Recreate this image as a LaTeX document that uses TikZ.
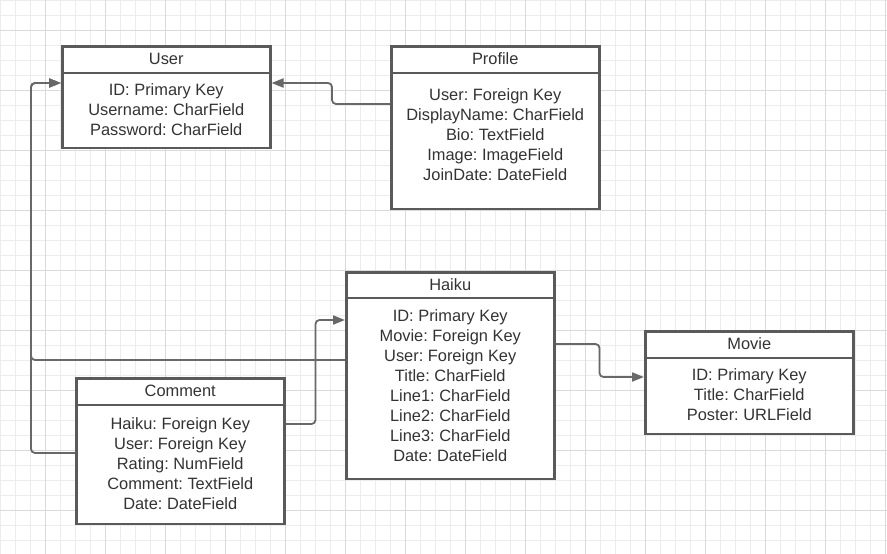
\documentclass[tikz,border=0pt]{standalone}
\usepackage{fontspec}
\setmainfont{Liberation Sans}
\usetikzlibrary{arrows.meta,positioning}
\definecolor{GridMinor}{RGB}{236,236,236}
\definecolor{GridMajor}{RGB}{218,218,218}
\definecolor{BoxClr}{RGB}{90,90,90}
\definecolor{LinkClr}{RGB}{104,104,104}
\definecolor{TextClr}{RGB}{51,51,51}
\frenchspacing

\begin{document}
\begin{tikzpicture}[x=1pt,y=-1pt,
  entity/.style={draw=BoxClr,line width=2.5pt,fill=white,rectangle,inner sep=0pt,anchor=north west,minimum width=208pt},
  divider/.style={draw=BoxClr,line width=2.5pt},
  entityname/.style={text=TextClr,font=\fontsize{16.4}{20}\selectfont,inner sep=0pt},
  fields/.style={text=TextClr,font=\fontsize{16.4}{20}\selectfont,align=center,inner sep=0pt,anchor=north},
  link/.style={draw=LinkClr,line width=1.8pt,rounded corners=4pt},
  arrowed/.style={-{Triangle[length=12pt,width=9pt]}}]

\useasboundingbox[fill=white] (0,0) rectangle (887,554);

\foreach \x in {0,15,...,885} \draw[GridMinor,line width=1pt] (\x,0) -- (\x,554);
\foreach \y in {0,15,...,554} \draw[GridMinor,line width=1pt] (0,\y) -- (887,\y);
\foreach \x in {45,105,...,885} \draw[GridMajor,line width=1pt] (\x,0) -- (\x,554);
\foreach \y in {30,90,...,554} \draw[GridMajor,line width=1pt] (0,\y) -- (887,\y);

\node[entity,minimum height=101.5pt] (user) at (61,45) {};
\node[entity,minimum height=162.5pt] (profile) at (390,45) {};
\node[entity,minimum height=206.5pt] (haiku) at (345,271) {};
\node[entity,minimum height=145.5pt] (comment) at (75,377) {};
\node[entity,minimum height=102.5pt] (movie) at (644,330) {};

\draw[divider] ([yshift=-28pt]user.north west) -- ([yshift=-28pt]user.north east);
\draw[divider] ([yshift=-28pt]profile.north west) -- ([yshift=-28pt]profile.north east);
\draw[divider] ([yshift=-27pt]haiku.north west) -- ([yshift=-27pt]haiku.north east);
\draw[divider] ([yshift=-28pt]comment.north west) -- ([yshift=-28pt]comment.north east);
\draw[divider] ([yshift=-28pt]movie.north west) -- ([yshift=-28pt]movie.north east);

\node[entityname] (usertitle) at ([yshift=-14pt]user.north) {User};
\node[entityname] (profiletitle) at ([yshift=-14pt]profile.north) {Profile};
\node[entityname] (haikutitle) at ([yshift=-13.5pt]haiku.north) {Haiku};
\node[entityname] (commenttitle) at ([yshift=-14pt]comment.north) {Comment};
\node[entityname] (movietitle) at ([yshift=-14pt]movie.north) {Movie};

\node[fields] (userfields) at ([yshift=-38pt]user.north)
  {ID: Primary Key\\Username: CharField\\Password: CharField};
\node[fields] (profilefields) at ([yshift=-43pt]profile.north)
  {User: Foreign Key\\DisplayName: CharField\\Bio: TextField\\Image: ImageField\\JoinDate: DateField};
\node[fields] (haikufields) at ([yshift=-38pt]haiku.north)
  {ID: Primary Key\\Movie: Foreign Key\\User: Foreign Key\\Title: CharField\\Line1: CharField\\Line2: CharField\\Line3: CharField\\Date: DateField};
\node[fields] (commentfields) at ([yshift=-40pt]comment.north)
  {Haiku: Foreign Key\\User: Foreign Key\\Rating: NumField\\Comment: TextField\\Date: DateField};
\node[fields] (moviefields) at ([yshift=-38pt]movie.north)
  {ID: Primary Key\\Title: CharField\\Poster: URLField};

\coordinate (userL) at ([yshift=-38pt]user.north west);
\coordinate (userR) at ([yshift=-38pt]user.north east);
\coordinate (profileU) at ([yshift=-59pt]profile.north west);
\coordinate (haikuU) at ([yshift=-89pt]haiku.north west);
\coordinate (haikuC) at ([yshift=-49pt]haiku.north west);
\coordinate (haikuM) at ([yshift=-73pt]haiku.north east);
\coordinate (commentU) at ([yshift=-76pt]comment.north west);
\coordinate (commentH) at ([yshift=-47pt]comment.north east);
\coordinate (movieH) at ([yshift=-47pt]movie.north west);

\draw[link,arrowed] (profileU) -- ++(-58,0) |- (userR);
\draw[link,arrowed] (haikuU) -| ([xshift=-30pt]userL) -- (userL);
\draw[link,arrowed] (commentU) -| ([xshift=-30pt]userL) -- (userL);
\draw[link,arrowed] (commentH) -- ++(30,0) |- (haikuC);
\draw[link,arrowed] (haikuM) -- ++(44,0) |- (movieH);

\end{tikzpicture}
\end{document}
